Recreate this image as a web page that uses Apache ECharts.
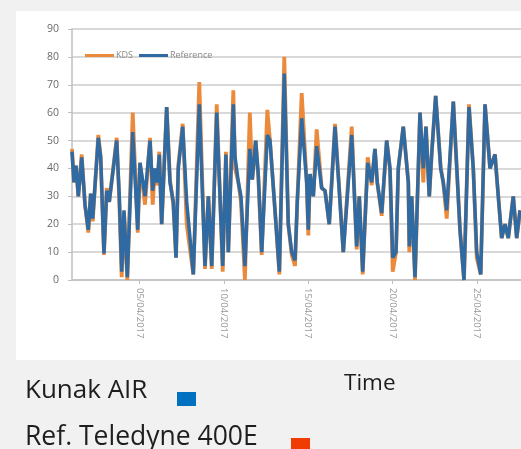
<!DOCTYPE html>
<html>
<head>
<meta charset="utf-8">
<script src="https://cdn.jsdelivr.net/npm/echarts@6/dist/echarts.min.js"></script>
<style>
html,body{margin:0;padding:0;background:#f1f1f1;}
#chart{width:521px;height:449px;}
</style>
</head>
<body>
<div id="chart"></div>
<script>
// Hours since 01/04/2017 00:00
const hours = [0,2.8,5.7,9,13.8,18.5,23.2,26.6,29.5,37.4,40.8,45.5,49.4,53,63.6,67.3,70.7,74,78.7,86.4,93.5,96.7,103.9,111,114.8,118,121.4,124.2,127.6,134.7,139.4,144.1,148,151.2,157.5,163.2,172.6,181.1,189.2,194,198.8,205.9,214.4,219,222.4,229.5,232,236.7,240.4,246,253,256.5,261.3,265,269.9,277.9,281.7,288.8,295,302,307.7,312.6,317.3,320.5,326.8,333.9,336.2,338.6,343.3,348.1,355.2,360,366,374.2,386,398,405,408.7,413.6,420.7,426.4,431,434.3,440.6,447.7,452.4,456.3,461,464.2,471.3,478.5,479.9,483.3,488,495.1,499.8,503.6,508.3,511.7,517.4,524.6,528.2,533.1,542.5,552,557.7,564.8,570.9,575.8,581.5,587.6,594.7,601.8,606.5,611.3,616,620.7,627.8,632.7,637.4];
const reference = [46,35,41,30,44,27,18,31,22,51,44,9.5,32,28,50,30,3,25,1,53,18,42,30,50,32,40,35,45,20,62,35,28,8,40,55,28,2,63,5,30,5,60,5,45,10,63,44,35,30,5,47,36,50,38,10,52,50,25,3,74,20,10,7,28,58,35,18,38,30,48,33,32,20,55,10,52,12,30,3,42,35,47,35,24,50,40,8,10,40,55,35,12,30,1,60,40,55,30,45,66,40,35,25,64,18,0,62,40,10,2,63,40,45,30,15,20,15,30,15,25];
const kds = [47,35,41,30,45,27,17,31,21,52,44,9,33,28,51,28,1,24,0,60,17,42,27,51,27,40,34,46,20,62,36,27,8,41,56,20,2,71,4,30,4,63,3,46,10,68,40,35,28,0,60,36,50,37,9,61,50,25,2,80,20,9,5,28,67,35,16,38,30,54,33,32,20,56,10,55,11,30,2,44,34,47,35,23,50,40,3,10,40,55,35,10,30,0,60,35,55,30,45,66,40,35,22,64,18,0,63,40,8,2,63,40,45,30,15,20,15,30,15,25];
const tickHours = [96,216,336,456,576];
const tickLabels = ["05/04/2017","10/04/2017","15/04/2017","20/04/2017","25/04/2017"];
const yMin = 0, yMax = 90, yStep = 10;

const chart = echarts.init(document.getElementById('chart'), null, {renderer:'canvas'});
chart.setOption({
  backgroundColor:'#f1f1f1',
  animation:false,
  graphic:[
    {type:'rect', z:-10, shape:{x:16,y:11,width:505,height:349}, style:{fill:'#ffffff'}},
    {type:'text', x:25, y:391, style:{text:'Kunak AIR', font:'26px "Open Sans"', fill:'#1e1e1e', verticalAlign:'middle'}},
    {type:'text', x:25, y:437, style:{text:'Ref. Teledyne 400E', font:'26.5px "Open Sans"', fill:'#1e1e1e', verticalAlign:'middle'}},
    {type:'text', x:344, y:384, style:{text:'Time', font:'22.5px "Open Sans"', fill:'#1e1e1e', verticalAlign:'middle'}},
    {type:'rect', shape:{x:177,y:392,width:19,height:14}, style:{fill:'#0070c0'}},
    {type:'rect', shape:{x:291,y:438,width:19,height:12}, style:{fill:'#f03c02'}}
  ],
  legend:{
    left:80, top:46, itemWidth:29, itemHeight:3, itemGap:6, icon:'rect',
    textStyle:{fontSize:9, color:'#8a8a8a', fontFamily:'Open Sans', padding:[0,0,0,-3]},
    data:['KDS','Reference']
  },
  grid:{left:72, right:0, top:29, bottom:169},
  xAxis:{
    type:'value', min:0, max:638.8,
    axisLine:{lineStyle:{color:'#bfbfbf', width:1.5}},
    axisTick:{customValues:tickHours, length:4, lineStyle:{color:'#bfbfbf'}},
    splitLine:{show:false},
    axisLabel:{customValues:tickHours, rotate:-90, margin:8, fontSize:9.5, color:'#999999', fontFamily:'Open Sans',
      formatter:v=>tickLabels[tickHours.indexOf(v)]}
  },
  yAxis:{
    type:'value', min:yMin, max:yMax, interval:yStep,
    axisLine:{show:true, lineStyle:{color:'#bfbfbf', width:1.5}},
    axisTick:{show:true, length:4, lineStyle:{color:'#bfbfbf'}},
    splitLine:{lineStyle:{color:'#cccccc', width:1.5}},
    axisLabel:{margin:13, fontSize:10.5, color:'#6a6a6a', fontFamily:'Open Sans'}
  },
  series:[
    {name:'KDS', type:'line', symbol:'none', z:2, color:'#ec8a3c',
     lineStyle:{width:3.8, color:'#ec8a3c'}, data:hours.map((h,i)=>[h,kds[i]])},
    {name:'Reference', type:'line', symbol:'none', z:3, color:'#2f6aa3',
     lineStyle:{width:3.5, color:'#2f6aa3'}, data:hours.map((h,i)=>[h,reference[i]])}
  ]
});
</script>
</body>
</html>
